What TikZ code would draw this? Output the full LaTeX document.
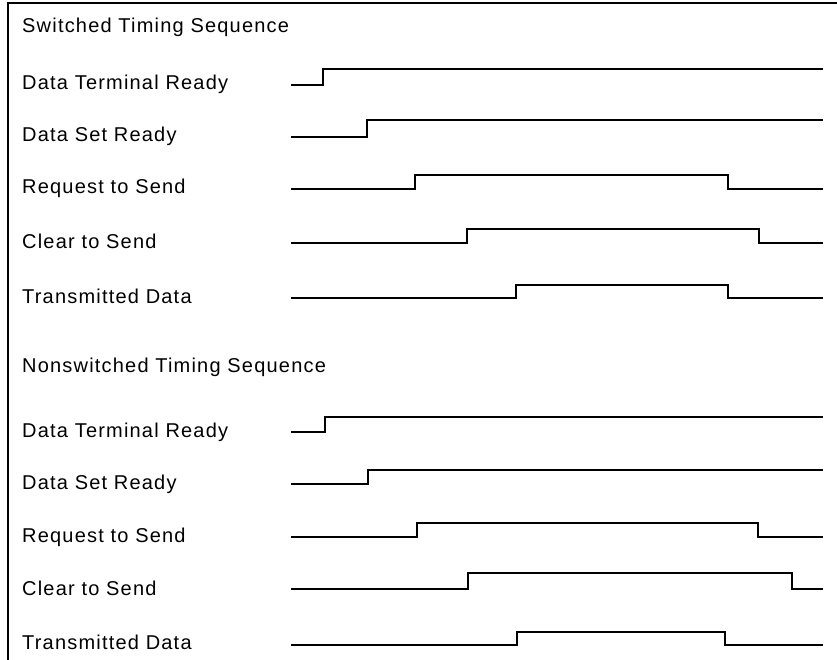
\documentclass[tikz,border=0pt]{standalone}
\usepackage{fontspec}
\setmainfont{Liberation Sans}
\newfontfamily\lblfont[LetterSpace=6]{Liberation Sans}
\usepackage{tikz}
\usetikzlibrary{positioning}

\begin{document}
\begin{tikzpicture}[
  x=1pt, y=-1pt,
  lbl/.style={anchor=base west, inner sep=0pt, font=\lblfont\fontsize{20}{24}\selectfont},
  sig/.style={line width=2.8pt, line join=miter},
  frm/.style={line width=2pt},
]
\useasboundingbox (0,0) rectangle (837,660);
% 外框：只有上沿与左沿
\draw[frm] (8,660) -- (8,3) -- (837,3);

% Switched
\node[lbl] (swtitle) at (22,33) {Switched Timing Sequence};
\node[lbl] (swdtr) at (22,90) {Data Terminal Ready};
\node[lbl] (swdsr) at (22,142) {Data Set Ready};
\node[lbl] (swrts) at (22,194) {Request to Send};
\node[lbl] (swcts) at (22,248) {Clear to Send};
\node[lbl] (swtd)  at (22,303) {Transmitted Data};

\draw[sig] (291,85) -- (323,85) -- (323,69) -- (823,69);
\draw[sig] (291,137) -- (367,137) -- (367,120) -- (823,120);
\draw[sig] (291,189) -- (415,189) -- (415,175) -- (728,175) -- (728,189) -- (823,189);
\draw[sig] (291,243) -- (467,243) -- (467,229) -- (759,229) -- (759,243) -- (823,243);
\draw[sig] (291,298) -- (516,298) -- (516,285) -- (728,285) -- (728,298) -- (823,298);

% Nonswitched
\node[lbl] (nstitle) at (22,372) {Nonswitched Timing Sequence};
\node[lbl] (nsdtr) at (22,437) {Data Terminal Ready};
\node[lbl] (nsdsr) at (22,489) {Data Set Ready};
\node[lbl] (nsrts) at (22,542) {Request to Send};
\node[lbl] (nscts) at (22,595) {Clear to Send};
\node[lbl] (nstd)  at (22,649) {Transmitted Data};

\draw[sig] (291,432) -- (325,432) -- (325,417) -- (823,417);
\draw[sig] (291,484) -- (368,484) -- (368,470) -- (823,470);
\draw[sig] (291,537) -- (417,537) -- (417,523) -- (758,523) -- (758,537) -- (823,537);
\draw[sig] (291,589) -- (468,589) -- (468,573) -- (792,573) -- (792,589) -- (823,589);
\draw[sig] (291,645) -- (517,645) -- (517,632) -- (725,632) -- (725,645) -- (823,645);
\end{tikzpicture}
\end{document}
